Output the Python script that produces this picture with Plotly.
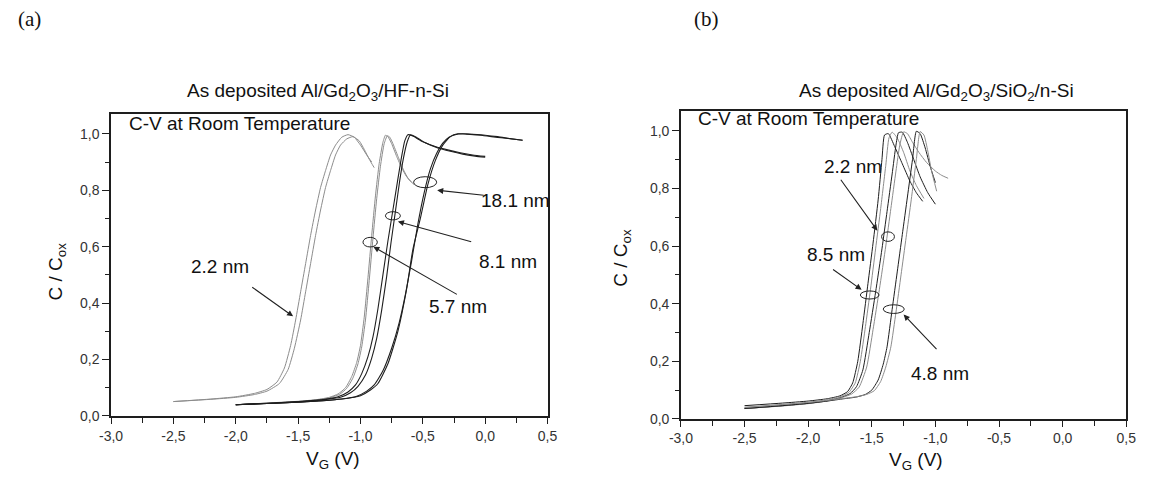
import plotly.graph_objects as go

# ---------------- Panel (a): Al/Gd2O3/HF-n-Si ----------------
v_a_22_1 = [-2.50, -2.20, -2.00, -1.85, -1.75, -1.67, -1.61, -1.56, -1.52, -1.48, -1.44, -1.40, -1.36, -1.32, -1.28, -1.24, -1.20, -1.15, -1.10, -1.05, -1.00, -0.95, -0.91]
c_a_22_1 = [0.051, 0.060, 0.068, 0.080, 0.094, 0.120, 0.170, 0.250, 0.340, 0.440, 0.540, 0.640, 0.730, 0.810, 0.870, 0.925, 0.960, 0.988, 0.997, 0.988, 0.960, 0.925, 0.900]
v_a_22_2 = [-2.50, -2.20, -2.00, -1.85, -1.75, -1.65, -1.58, -1.53, -1.48, -1.44, -1.40, -1.36, -1.32, -1.28, -1.24, -1.20, -1.16, -1.11, -1.06, -1.01, -0.97, -0.93, -0.89]
c_a_22_2 = [0.051, 0.059, 0.066, 0.076, 0.088, 0.115, 0.165, 0.240, 0.340, 0.440, 0.540, 0.640, 0.730, 0.810, 0.870, 0.925, 0.960, 0.982, 0.990, 0.975, 0.945, 0.910, 0.880]

v_a_57_1 = [-2.00, -1.70, -1.50, -1.35, -1.25, -1.18, -1.12, -1.07, -1.03, -1.00, -0.97, -0.94, -0.91, -0.88, -0.85, -0.82, -0.80, -0.78, -0.75, -0.71, -0.67, -0.63, -0.59]
c_a_57_1 = [0.040, 0.047, 0.052, 0.058, 0.066, 0.078, 0.100, 0.140, 0.190, 0.250, 0.350, 0.490, 0.640, 0.780, 0.895, 0.970, 0.995, 0.990, 0.965, 0.920, 0.880, 0.848, 0.828]
v_a_57_2 = [-2.00, -1.70, -1.50, -1.35, -1.25, -1.17, -1.11, -1.06, -1.02, -0.99, -0.96, -0.93, -0.90, -0.87, -0.84, -0.81, -0.785, -0.765, -0.735, -0.695, -0.655, -0.615, -0.57]
c_a_57_2 = [0.040, 0.046, 0.051, 0.057, 0.064, 0.076, 0.098, 0.135, 0.185, 0.245, 0.340, 0.480, 0.630, 0.770, 0.885, 0.965, 0.993, 0.988, 0.960, 0.915, 0.872, 0.840, 0.820]

v_a_81_1 = [-2.00, -1.70, -1.50, -1.30, -1.18, -1.10, -1.04, -0.99, -0.94, -0.90, -0.86, -0.82, -0.78, -0.74, -0.70, -0.67, -0.645, -0.62, -0.58, -0.50, -0.40, -0.30, -0.20, -0.10, 0.00]
c_a_81_1 = [0.040, 0.046, 0.051, 0.058, 0.068, 0.085, 0.110, 0.150, 0.210, 0.280, 0.380, 0.500, 0.620, 0.730, 0.840, 0.920, 0.975, 0.997, 0.992, 0.972, 0.955, 0.943, 0.933, 0.925, 0.920]
v_a_81_2 = [-2.00, -1.70, -1.50, -1.30, -1.16, -1.08, -1.02, -0.96, -0.91, -0.87, -0.83, -0.79, -0.755, -0.72, -0.685, -0.655, -0.625, -0.60, -0.56, -0.48, -0.38, -0.28, -0.18, -0.08, 0.00]
c_a_81_2 = [0.040, 0.045, 0.050, 0.057, 0.066, 0.082, 0.105, 0.145, 0.205, 0.275, 0.375, 0.495, 0.615, 0.725, 0.835, 0.915, 0.972, 0.996, 0.990, 0.968, 0.950, 0.938, 0.928, 0.921, 0.917]

v_a_181_1 = [-2.00, -1.70, -1.50, -1.30, -1.15, -1.03, -0.95, -0.89, -0.82, -0.75, -0.69, -0.64, -0.59, -0.54, -0.49, -0.44, -0.39, -0.34, -0.29, -0.24, -0.18, -0.10, 0.00, 0.10, 0.20, 0.30]
c_a_181_1 = [0.040, 0.045, 0.049, 0.054, 0.060, 0.070, 0.088, 0.110, 0.160, 0.240, 0.330, 0.430, 0.550, 0.680, 0.790, 0.875, 0.930, 0.967, 0.988, 0.997, 1.000, 0.998, 0.995, 0.990, 0.983, 0.977]
v_a_181_2 = [-2.00, -1.70, -1.50, -1.30, -1.15, -1.00, -0.92, -0.86, -0.78, -0.70, -0.63, -0.58, -0.52, -0.46, -0.40, -0.34, -0.28, -0.22, -0.15, -0.05, 0.05, 0.15, 0.30]
c_a_181_2 = [0.040, 0.045, 0.049, 0.054, 0.060, 0.072, 0.092, 0.115, 0.185, 0.300, 0.450, 0.590, 0.700, 0.820, 0.905, 0.960, 0.990, 1.000, 0.999, 0.996, 0.990, 0.985, 0.977]

# ---------------- Panel (b): Al/Gd2O3/SiO2/n-Si ----------------
v_b_85_1 = [-2.50, -2.20, -2.00, -1.85, -1.75, -1.69, -1.65, -1.61, -1.57, -1.53, -1.49, -1.45, -1.42, -1.40, -1.37, -1.32, -1.26, -1.20, -1.15, -1.10]
c_b_85_1 = [0.046, 0.055, 0.062, 0.070, 0.080, 0.095, 0.125, 0.200, 0.330, 0.470, 0.610, 0.760, 0.900, 0.985, 0.990, 0.945, 0.885, 0.825, 0.785, 0.755]
v_b_85_2 = [-2.50, -2.20, -2.00, -1.85, -1.75, -1.68, -1.63, -1.59, -1.55, -1.51, -1.47, -1.43, -1.39, -1.365, -1.34, -1.30, -1.25, -1.20, -1.15, -1.09]
c_b_85_2 = [0.040, 0.050, 0.058, 0.067, 0.077, 0.092, 0.125, 0.200, 0.320, 0.450, 0.590, 0.730, 0.880, 0.975, 0.995, 0.975, 0.925, 0.860, 0.810, 0.765]

v_b_22_1 = [-2.50, -2.20, -2.00, -1.85, -1.75, -1.67, -1.62, -1.57, -1.52, -1.47, -1.42, -1.38, -1.34, -1.31, -1.29, -1.26, -1.22, -1.17, -1.12, -1.06, -1.00]
c_b_22_1 = [0.036, 0.046, 0.054, 0.063, 0.073, 0.088, 0.112, 0.170, 0.300, 0.440, 0.590, 0.720, 0.850, 0.950, 0.993, 0.995, 0.960, 0.900, 0.840, 0.785, 0.745]
v_b_22_2 = [-2.50, -2.20, -2.00, -1.85, -1.75, -1.66, -1.60, -1.54, -1.49, -1.44, -1.39, -1.35, -1.31, -1.28, -1.25, -1.22, -1.18, -1.13, -1.07, -1.00, -0.95, -0.90]
c_b_22_2 = [0.036, 0.045, 0.053, 0.062, 0.072, 0.086, 0.110, 0.180, 0.310, 0.450, 0.600, 0.730, 0.860, 0.950, 0.996, 0.990, 0.960, 0.925, 0.890, 0.860, 0.845, 0.835]

v_b_48_1 = [-2.50, -2.20, -2.00, -1.85, -1.72, -1.62, -1.55, -1.50, -1.45, -1.41, -1.38, -1.34, -1.30, -1.26, -1.22, -1.18, -1.15, -1.12, -1.08, -1.04, -1.00]
c_b_48_1 = [0.036, 0.046, 0.054, 0.062, 0.070, 0.076, 0.085, 0.100, 0.135, 0.190, 0.250, 0.380, 0.510, 0.640, 0.770, 0.900, 0.998, 0.990, 0.940, 0.875, 0.820]
v_b_48_2 = [-2.50, -2.20, -2.00, -1.85, -1.72, -1.62, -1.54, -1.48, -1.43, -1.39, -1.35, -1.31, -1.27, -1.23, -1.19, -1.15, -1.12, -1.09, -1.06, -1.03, -0.99]
c_b_48_2 = [0.040, 0.050, 0.057, 0.064, 0.071, 0.077, 0.085, 0.098, 0.130, 0.180, 0.250, 0.370, 0.500, 0.630, 0.760, 0.900, 0.997, 0.985, 0.930, 0.860, 0.790]

# axis ticks (Origin-style labels with decimal comma and plain hyphen)
x_tick_vals = [-3.0, -2.5, -2.0, -1.5, -1.0, -0.5, 0.0, 0.5]
x_tick_text = ["-3,0", "-2,5", "-2,0", "-1,5", "-1,0", "-0,5", "0,0", "0,5"]
y_tick_vals = [0.0, 0.2, 0.4, 0.6, 0.8, 1.0]
y_tick_text = ["0,0", "0,2", "0,4", "0,6", "0,8", "1,0"]

FONT = "Liberation Sans, Arial, sans-serif"
SERIF = "Liberation Serif, Times New Roman, serif"
DARK = "#1e1e1e"
GRAY = "#8c8c8c"
W, H = 1149, 481

fig = go.Figure()


def curve(v, c, color, xa, ya, width=1.0):
    fig.add_trace(go.Scatter(
        x=v, y=c, mode="lines", xaxis=xa, yaxis=ya, showlegend=False,
        hoverinfo="skip",
        line=dict(color=color, width=width, shape="spline", smoothing=0.5),
    ))


# panel (a) curves
curve(v_a_22_1, c_a_22_1, GRAY, "x", "y")
curve(v_a_22_2, c_a_22_2, GRAY, "x", "y")
curve(v_a_57_1, c_a_57_1, GRAY, "x", "y")
curve(v_a_57_2, c_a_57_2, GRAY, "x", "y")
curve(v_a_81_1, c_a_81_1, DARK, "x", "y", 1.1)
curve(v_a_81_2, c_a_81_2, DARK, "x", "y", 1.1)
curve(v_a_181_1, c_a_181_1, DARK, "x", "y", 1.1)
curve(v_a_181_2, c_a_181_2, DARK, "x", "y", 1.1)

# panel (b) curves
curve(v_b_85_1, c_b_85_1, DARK, "x2", "y2")
curve(v_b_85_2, c_b_85_2, GRAY, "x2", "y2")
curve(v_b_22_1, c_b_22_1, DARK, "x2", "y2")
curve(v_b_22_2, c_b_22_2, GRAY, "x2", "y2")
curve(v_b_48_1, c_b_48_1, DARK, "x2", "y2")
curve(v_b_48_2, c_b_48_2, GRAY, "x2", "y2")


def px_x(p):
    return p / W


def px_y(p):
    return 1 - p / H


def x_axis(left, right, anchor):
    return dict(
        domain=[px_x(left), px_x(right)], anchor=anchor, range=[-3, 0.5],
        tickmode="array", tickvals=x_tick_vals, ticktext=x_tick_text,
        ticks="outside", ticklen=6, tickwidth=1.2, tickcolor=DARK,
        showline=True, linewidth=1.5, linecolor=DARK, mirror=True,
        showgrid=False, zeroline=False,
        tickfont=dict(family=FONT, size=14, color="#333333"),
        minor=dict(dtick=0.25, tick0=-3, ticks="outside", ticklen=5,
                   tickwidth=1, tickcolor=DARK),
    )


def y_axis(bottom, top, anchor, ytop):
    return dict(
        domain=[px_y(bottom), px_y(top)], anchor=anchor, range=[0, ytop],
        tickmode="array", tickvals=y_tick_vals, ticktext=y_tick_text,
        ticks="outside", ticklen=7, tickwidth=1.2, tickcolor=DARK,
        showline=True, linewidth=1.5, linecolor=DARK, mirror=True,
        showgrid=False, zeroline=False,
        tickfont=dict(family=FONT, size=14, color="#333333"),
        minor=dict(dtick=0.1, tick0=0, ticks="outside", ticklen=4,
                   tickwidth=1, tickcolor=DARK),
    )


ann = []


def text_paper(x, y, s, size=19, family=FONT, angle=0, xanchor="center"):
    ann.append(dict(x=px_x(x), y=px_y(y), xref="paper", yref="paper",
                    text=s, showarrow=False, textangle=angle,
                    xanchor=xanchor, yanchor="middle",
                    font=dict(family=family, size=size, color="#111111")))


def text_data(x, y, s, xa, ya, size=19, xanchor="center"):
    ann.append(dict(x=x, y=y, xref=xa, yref=ya, text=s, showarrow=False,
                    xanchor=xanchor, yanchor="middle",
                    font=dict(family=FONT, size=size, color="#111111")))


def arrow(tip, tail, xa, ya):
    ann.append(dict(x=tip[0], y=tip[1], ax=tail[0], ay=tail[1],
                    xref=xa, yref=ya, axref=xa, ayref=ya, text="",
                    showarrow=True, arrowhead=2, arrowsize=1.1,
                    arrowwidth=1.1, arrowcolor="#222222", standoff=0))


shapes = []


def ring(x0, x1, y0, y1, xa, ya):
    shapes.append(dict(type="circle", xref=xa, yref=ya, x0=x0, x1=x1,
                       y0=y0, y1=y1, line=dict(color="#222222", width=1)))


# panel labels, titles and axis titles
text_paper(18, 19, "(a)", size=21, family=SERIF)
text_paper(708, 19, "(b)", size=21, family=SERIF)
text_paper(312, 94, "As deposited Al/Gd<sub>2</sub>O<sub>3</sub>/HF-n-Si")
text_paper(943, 94, "As deposited Al/Gd<sub>2</sub>O<sub>3</sub>/SiO<sub>2</sub>/n-Si")
text_paper(46, 276, "C / C<sub>ox</sub>", angle=-90)
text_paper(622, 262, "C / C<sub>ox</sub>", angle=-90)
text_paper(327, 468, "V<sub>G</sub> (V)")
text_paper(922, 469, "V<sub>G</sub> (V)")

# panel (a) annotations
text_data(-2.876, 1.035, "C-V at Room Temperature", "x", "y", xanchor="left")
text_data(-2.13, 0.53, "2.2 nm", "x", "y")
text_data(0.24, 0.762, "18.1 nm", "x", "y")
text_data(0.18, 0.548, "8.1 nm", "x", "y")
text_data(-0.22, 0.388, "5.7 nm", "x", "y")
arrow((-1.54, 0.353), (-1.88, 0.46), "x", "y")
arrow((-0.385, 0.80), (0.0, 0.782), "x", "y")
arrow((-0.70, 0.689), (-0.10, 0.616), "x", "y")
arrow((-0.897, 0.60), (-0.215, 0.428), "x", "y")
ring(-0.574, -0.389, 0.809, 0.848, "x", "y")
ring(-0.80, -0.68, 0.695, 0.724, "x", "y")
ring(-0.98, -0.865, 0.599, 0.633, "x", "y")

# panel (b) annotations
text_data(-2.884, 1.043, "C-V at Room Temperature", "x2", "y2", xanchor="left")
text_data(-1.65, 0.877, "2.2 nm", "x2", "y2")
text_data(-1.785, 0.569, "8.5 nm", "x2", "y2")
text_data(-0.962, 0.159, "4.8 nm", "x2", "y2")
arrow((-1.456, 0.653), (-1.752, 0.835), "x2", "y2")
arrow((-1.58, 0.448), (-1.816, 0.522), "x2", "y2")
arrow((-1.25, 0.362), (-0.98, 0.237), "x2", "y2")
ring(-1.423, -1.322, 0.616, 0.649, "x2", "y2")
ring(-1.59, -1.443, 0.416, 0.444, "x2", "y2")
ring(-1.41, -1.245, 0.366, 0.396, "x2", "y2")

fig.update_layout(
    width=W, height=H,
    margin=dict(l=0, r=0, t=0, b=0),
    paper_bgcolor="white", plot_bgcolor="white",
    showlegend=False,
    xaxis=x_axis(101, 546, "y"),
    yaxis=y_axis(423, 116, "x", 1.07),
    xaxis2=x_axis(682, 1136, "y2"),
    yaxis2=y_axis(426, 113, "x2", 1.068),
    annotations=ann,
    shapes=shapes,
)

fig.write_html("out.html")
